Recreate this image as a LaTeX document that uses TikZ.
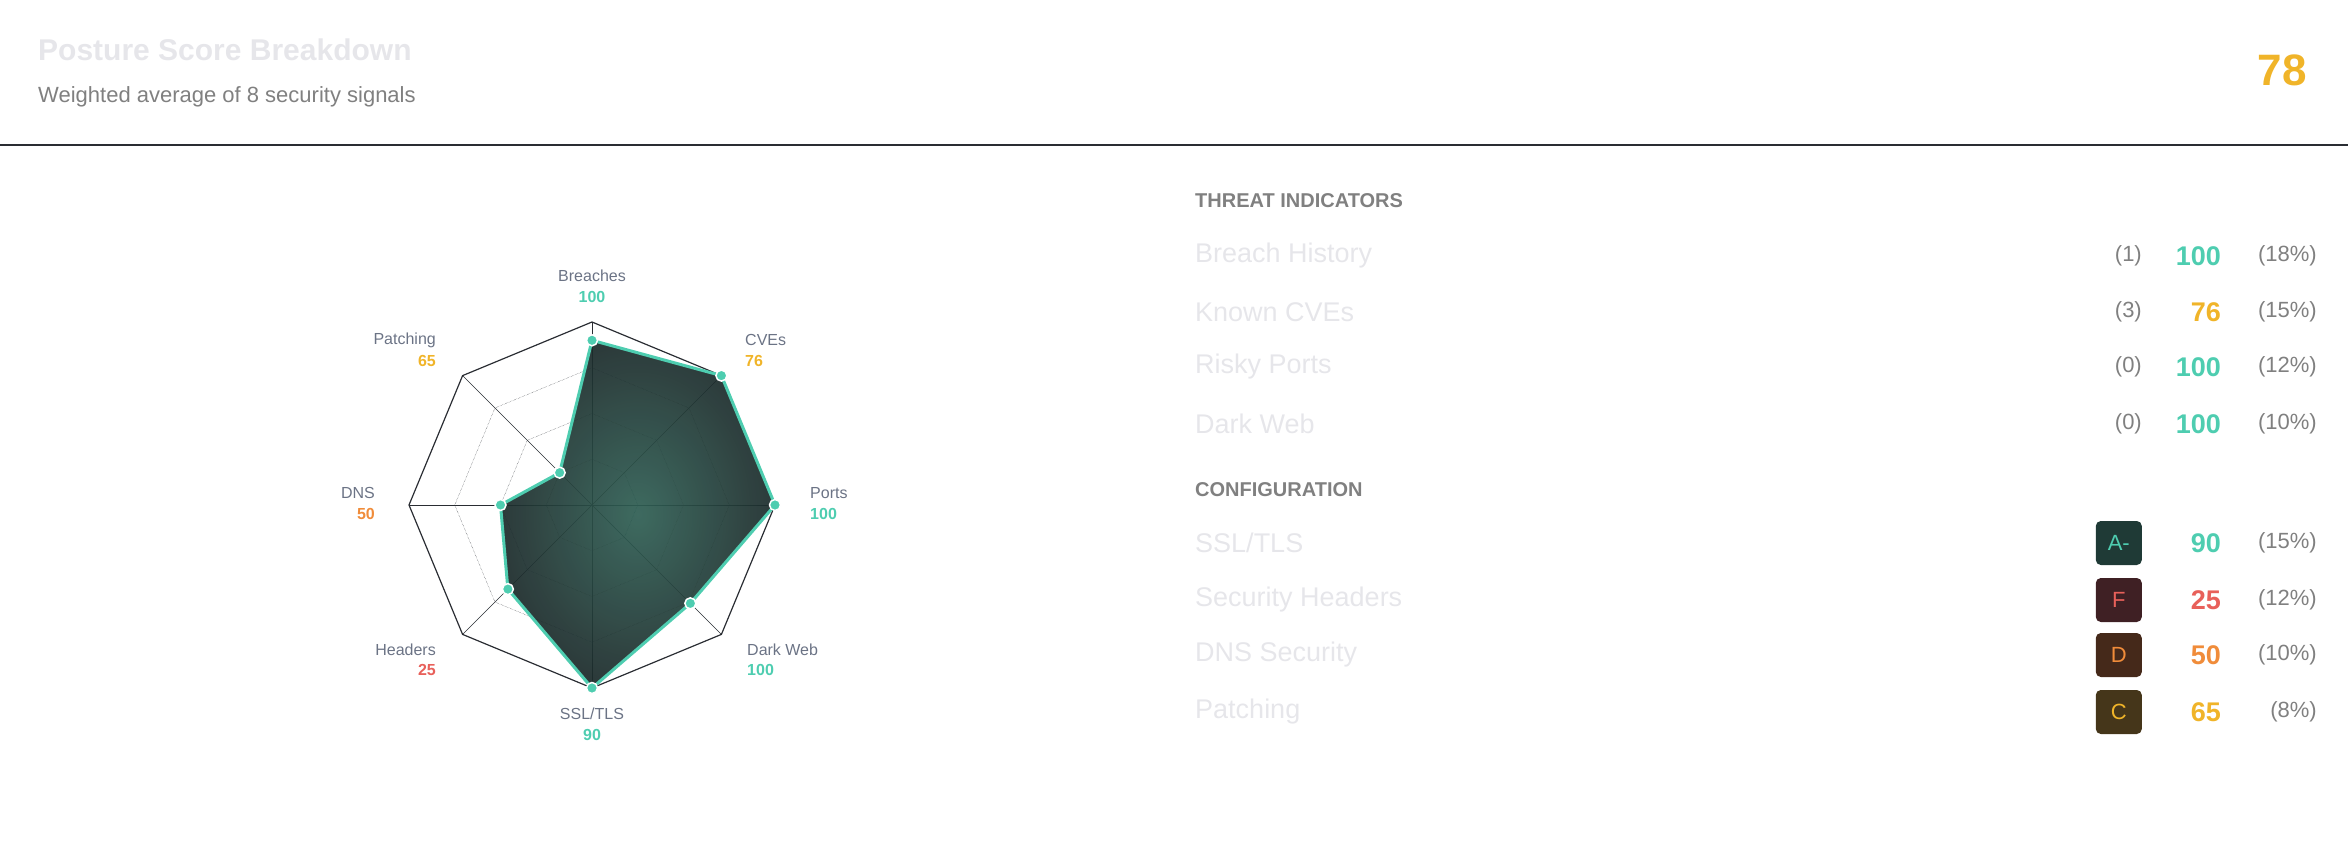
\documentclass[tikz,border=0pt]{standalone}
\usepackage{fontspec}
\setmainfont{Liberation Sans}
\usepackage{xcolor}
\usetikzlibrary{positioning,calc}
\definecolor{good}{HTML}{4ECDB0}
\definecolor{warn}{HTML}{F0B429}
\definecolor{midc}{HTML}{F08C3A}
\definecolor{bad}{HTML}{E8605A}
\definecolor{slate}{HTML}{6B7385}
\definecolor{pale}{HTML}{E6E6EA}
\definecolor{ink}{HTML}{2A2D33}
\definecolor{shadein}{HTML}{2F5F54}
\definecolor{shadeout}{HTML}{1C2B2B}
\newcommand{\fsz}[1]{\fontsize{#1}{#1}\selectfont}
\newcommand{\ssltls}{SSL/TLS}

\begin{document}
\begin{tikzpicture}[
    x=1pt, y=-1pt,
    axlabel/.style={font=\fsz{16}, text=slate, inner sep=0pt},
    axvalue/.style={font=\fsz{16}\bfseries, inner sep=0pt},
    rowlabel/.style={anchor=west, font=\fsz{27}, text=pale, inner sep=0pt},
    rowgray/.style={anchor=east, font=\fsz{22}, text=gray, inner sep=0pt},
    rowscore/.style={anchor=east, font=\fsz{27}\bfseries, inner sep=0pt},
    sechead/.style={anchor=west, font=\fsz{20}\bfseries, text=gray, inner sep=0pt},
    badge/.style={anchor=east, rounded corners=5pt, minimum height=44pt, minimum width=46pt, font=\fsz{22}},
    dot/.style={circle, fill=good, draw=white, line width=1.5pt, inner sep=0pt, minimum size=11pt},
]
\useasboundingbox (0,0) rectangle (2348,860);

% Header
\node[anchor=west, font=\fsz{30}\bfseries, text=pale, inner sep=0pt] (title) at (38,50) {Posture Score Breakdown};
\node[anchor=west, font=\fsz{22}, text=gray, inner sep=0pt] (subtitle) at (38,97) {Weighted average of 8 security signals};
\node[anchor=east, font=\fsz{44}\bfseries, text=warn, inner sep=0pt] (total) at (2307,70) {78};
\draw[ink, line width=1.5pt] (0,145) -- (2348,145);

% Radar grid
\def\cx{592}
\def\cy{505}
\def\rad{183}
\foreach \f in {0.25,0.5,0.75} {
    \draw[ink, densely dotted, thin] ($(\cx,\cy)+(90:\f*\rad)$)
        \foreach \k in {1,...,7} { -- ($(\cx,\cy)+(90-\k*45:\f*\rad)$) } -- cycle;
}
\foreach \k in {0,...,7} {
    \draw[ink, thin] (\cx,\cy) -- ($(\cx,\cy)+(90-\k*45:\rad)$);
}
\draw[ink, line width=1.2pt] ($(\cx,\cy)+(90:\rad)$)
    \foreach \k in {1,...,7} { -- ($(\cx,\cy)+(90-\k*45:\rad)$) } -- cycle;

% Data polygon
\foreach \k/\v in {0/100, 1/76, 2/100, 3/100, 4/90, 5/25, 6/50, 7/65} {
    \coordinate (p\k) at ($(\cx,\cy)+(90-\k*45:\v/100*\rad)$);
}
\shade[inner color=shadein, outer color=shadeout, opacity=0.93]
    (p0) -- (p1) -- (p2) -- (p3) -- (p4) -- (p5) -- (p6) -- (p7) -- cycle;
\draw[good, line width=3pt, line join=round]
    (p0) -- (p1) -- (p2) -- (p3) -- (p4) -- (p5) -- (p6) -- (p7) -- cycle;
\foreach \k in {0,...,7} {
    \node[dot] (d\k) at (p\k) {};
}

% Axis labels
\node[axlabel] (lbreach) at (592,276) {Breaches};
\node[axvalue, text=good] (vbreach) at (592,297) {100};
\node[axlabel, anchor=west] (lcve) at (745,340) {CVEs};
\node[axvalue, anchor=west, text=warn] (vcve) at (745,361) {76};
\node[axlabel, anchor=west] (lports) at (810,493) {Ports};
\node[axvalue, anchor=west, text=good] (vports) at (810,514) {100};
\node[axlabel, anchor=west] (ldark) at (747,650) {Dark Web};
\node[axvalue, anchor=west, text=good] (vdark) at (747,670) {100};
\node[axlabel] (lssl) at (592,714) {\ssltls};
\node[axvalue, text=good] (vssl) at (592,735) {90};
\node[axlabel, anchor=east] (lhead) at (436,650) {Headers};
\node[axvalue, anchor=east, text=bad] (vhead) at (436,670) {25};
\node[axlabel, anchor=east] (ldns) at (375,493) {DNS};
\node[axvalue, anchor=east, text=midc] (vdns) at (375,514) {50};
\node[axlabel, anchor=east] (lpatch) at (436,340) {Patching};
\node[axvalue, anchor=east, text=warn] (vpatch) at (436,361) {65};

% Threat indicators
\node[sechead] (threat) at (1195,201) {THREAT INDICATORS};
\foreach \y/\lbl/\n/\s/\c/\w in {256/Breach History/1/100/good/18,
                                312/Known CVEs/3/76/warn/15,
                                367/Risky Ports/0/100/good/12,
                                424/Dark Web/0/100/good/10} {
    \node[rowlabel] at (1195,\y) {\lbl};
    \node[rowgray] at (2142,\y) {(\n)};
    \node[rowscore, text=\c] at (2221,\y) {\s};
    \node[rowgray] at (2317,\y) {(\w\%)};
}

% Configuration
\node[sechead] (config) at (1195,490) {CONFIGURATION};
\foreach \y/\lbl/\g/\bg/\s/\c/\w in {543/\ssltls/A-/1F3A36/90/good/15,
                                    600/Security Headers/F/3F2024/25/bad/12,
                                    655/DNS Security/D/45291A/50/midc/10,
                                    712/Patching/C/45361A/65/warn/8} {
    \node[rowlabel] at (1195,\y) {\lbl};
    \definecolor{badgebg}{HTML}{\bg}
    \node[badge, fill=badgebg, text=\c] at (2142,\y) {\g};
    \node[rowscore, text=\c] at (2221,\y) {\s};
    \node[rowgray] at (2317,\y) {(\w\%)};
}

\end{tikzpicture}
\end{document}
